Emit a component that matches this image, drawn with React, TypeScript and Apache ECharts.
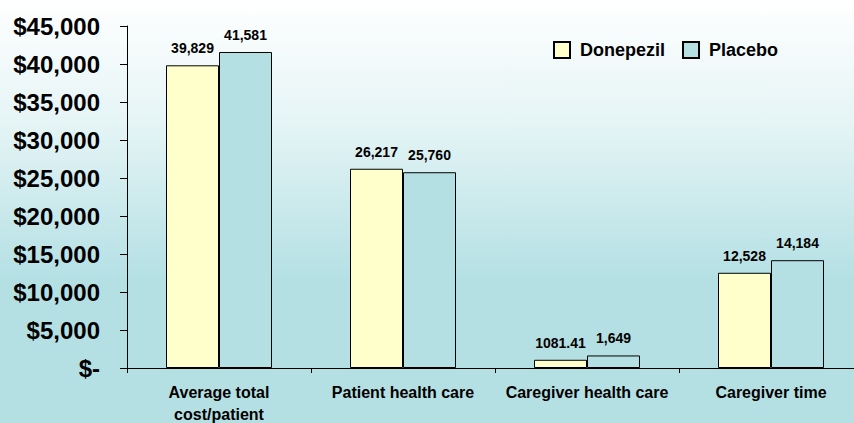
import React, { useEffect, useRef } from "react";
import * as echarts from "echarts";

const categories = ["Average total\ncost/patient", "Patient health care", "Caregiver health care", "Caregiver time"];
const donepezil = [39829, 26217, 1081.41, 12528];
const placebo = [41581, 25760, 1649, 14184];
const yTicks = [0, 5000, 10000, 15000, 20000, 25000, 30000, 35000, 40000, 45000];

const FONT = "Arial, 'Liberation Sans', Helvetica, sans-serif";

function fmtLabel(v: number): string {
  if (Number.isInteger(v)) return v.toLocaleString("en-US");
  return String(v);
}

export default function App() {
  const ref = useRef<HTMLDivElement>(null);
  useEffect(() => {
    if (!ref.current) return;
    const chart = echarts.init(ref.current, null, { renderer: "svg" });
    chart.setOption({
      animation: false,
      textStyle: { fontFamily: FONT },
      legend: {
        data: ["Donepezil", "Placebo"],
        icon: "rect",
        left: 548,
        top: 36,
        itemWidth: 16,
        itemHeight: 16,
        itemGap: 17,
        textStyle: { fontFamily: FONT, fontWeight: "bold", fontSize: 18, color: "#000", padding: [0, 0, 0, 5] },
      },
      grid: { left: 127, top: 26, width: 736, height: 342, containLabel: false, outerBoundsMode: "none" },
      xAxis: {
        type: "category",
        data: categories,
        boundaryGap: true,
        axisLine: { show: true, lineStyle: { color: "#000", width: 1 } },
        axisTick: { show: true, length: 5, lineStyle: { color: "#000" } },
        axisLabel: {
          interval: 0,
          margin: 13,
          color: "#000",
          fontFamily: FONT,
          fontWeight: "bold",
          fontSize: 16,
          lineHeight: 22,
        },
      },
      yAxis: {
        type: "value",
        min: yTicks[0],
        max: yTicks[yTicks.length - 1],
        interval: 5000,
        splitLine: { show: false },
        axisLine: { show: true, lineStyle: { color: "#000", width: 1 } },
        axisTick: { show: true, length: 7, lineStyle: { color: "#000" } },
        axisLabel: {
          margin: 27,
          color: "#000",
          fontFamily: FONT,
          fontWeight: "bold",
          fontSize: 24,
          formatter: (v: number) => (v === 0 ? "$-" : "$" + v.toLocaleString("en-US")),
        },
      },
      series: [
        {
          name: "Donepezil",
          type: "bar",
          data: donepezil,
          barWidth: 53,
          barGap: "0%",
          itemStyle: { color: "#ffffcc", borderColor: "#000", borderWidth: 1 },
          label: {
            show: true,
            position: "top",
            distance: 10,
            color: "#000",
            fontFamily: FONT,
            fontWeight: "bold",
            fontSize: 14,
            formatter: (p: any) => fmtLabel(p.value),
          },
        },
        {
          name: "Placebo",
          type: "bar",
          data: placebo,
          barWidth: 53,
          barGap: "0%",
          itemStyle: { color: "#b4e0e4", borderColor: "#000", borderWidth: 1 },
          label: {
            show: true,
            position: "top",
            distance: 10,
            color: "#000",
            fontFamily: FONT,
            fontWeight: "bold",
            fontSize: 14,
            formatter: (p: any) => fmtLabel(p.value),
          },
        },
      ],
    });
    return () => chart.dispose();
  }, []);
  return (
    <div
      ref={ref}
      style={{
        position: "fixed",
        left: 0,
        top: 0,
        width: 854,
        height: 423,
        background: "linear-gradient(to bottom, #ffffff 0%, #e4f4f5 30%, #b4e0e4 66%, #b4e0e4 100%)",
      }}
    />
  );
}
